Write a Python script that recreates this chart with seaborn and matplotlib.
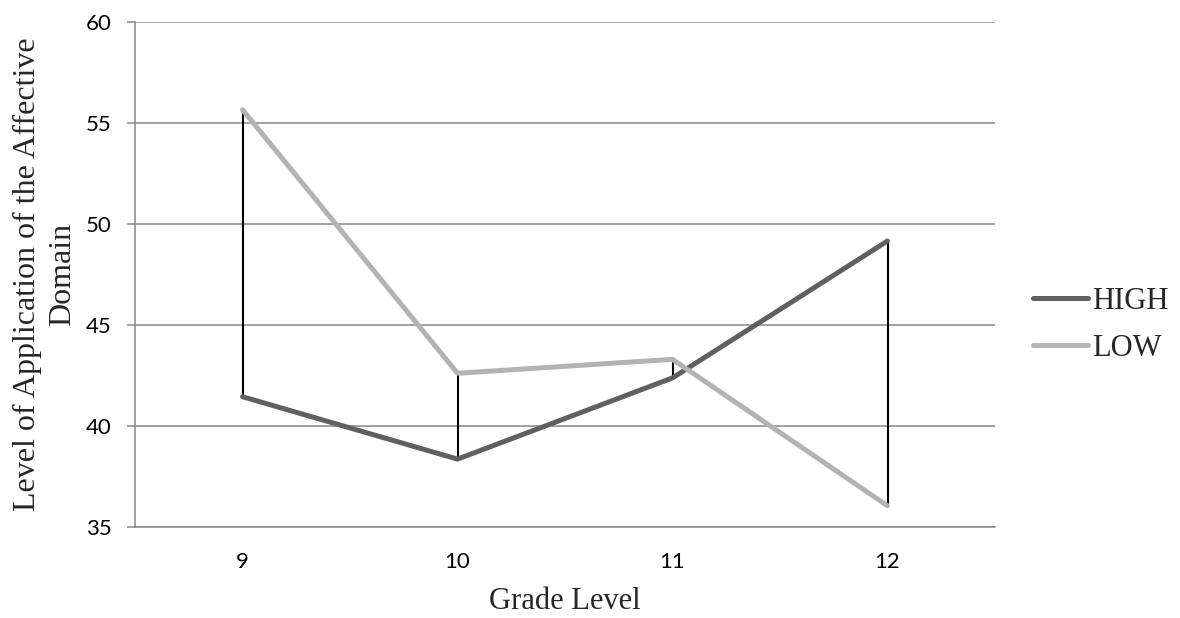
import matplotlib
matplotlib.use("Agg")
import matplotlib.pyplot as plt
import seaborn as sns
import pandas as pd

grades = ["9", "10", "11", "12"]
high = [41.45, 38.36, 42.38, 49.16]
low = [55.66, 42.61, 43.30, 36.05]
series_names = ["HIGH", "LOW"]
yticks = [35, 40, 45, 50, 55, 60]

df = pd.DataFrame({
    "Grade": grades * 2,
    "Value": high + low,
    "Group": [series_names[0]] * 4 + [series_names[1]] * 4,
})

sns.set_theme(style="white")
plt.rcParams["font.family"] = ["Lato", "DejaVu Sans"]

fig = plt.figure(figsize=(11.8, 6.18), dpi=100)
ax = fig.add_axes([135 / 1180, 1 - 527 / 618, 860 / 1180, 505 / 618])

# drop lines (high-low lines)
xs = list(range(len(grades)))
ax.vlines(xs, [min(h, l) for h, l in zip(high, low)],
          [max(h, l) for h, l in zip(high, low)], color="black", lw=1.5, zorder=2)

sns.lineplot(data=df, x="Grade", y="Value", hue="Group",
             palette={"HIGH": "#606060", "LOW": "#b3b3b3"},
             linewidth=3.6, ax=ax, sort=False, zorder=3, legend=True)

ax.set_xlim(-0.5, 3.5)
ax.set_ylim(35, 60)
ax.set_yticks(yticks)
ax.yaxis.grid(True, color="#888888", lw=1.1)
ax.xaxis.grid(False)
for s in ["top", "right"]:
    ax.spines[s].set_visible(False)
for s in ["left", "bottom"]:
    ax.spines[s].set_color("#888888")
    ax.spines[s].set_linewidth(1.1)
ax.tick_params(axis="y", which="major", length=6, width=1.1, color="#888888",
               left=True, labelsize=16, pad=11, labelcolor="black")
ax.tick_params(axis="x", length=0, labelsize=16, pad=18, labelcolor="black")

ax.set_xlabel("Grade Level", family=["Liberation Serif"], fontsize=22, labelpad=11)
ax.set_ylabel("Level of Application of the Affective\nDomain", family=["Liberation Serif"],
              fontsize=23, labelpad=6, linespacing=1.3)

leg = ax.legend(loc="center left", bbox_to_anchor=(1.012, 0.40), frameon=False,
                prop={"family": "Liberation Serif", "size": 22},
                handlelength=1.8, handletextpad=0.13, labelspacing=0.6)
for line in leg.get_lines():
    line.set_linewidth(3.6)

fig.savefig("out.png", dpi=100)
